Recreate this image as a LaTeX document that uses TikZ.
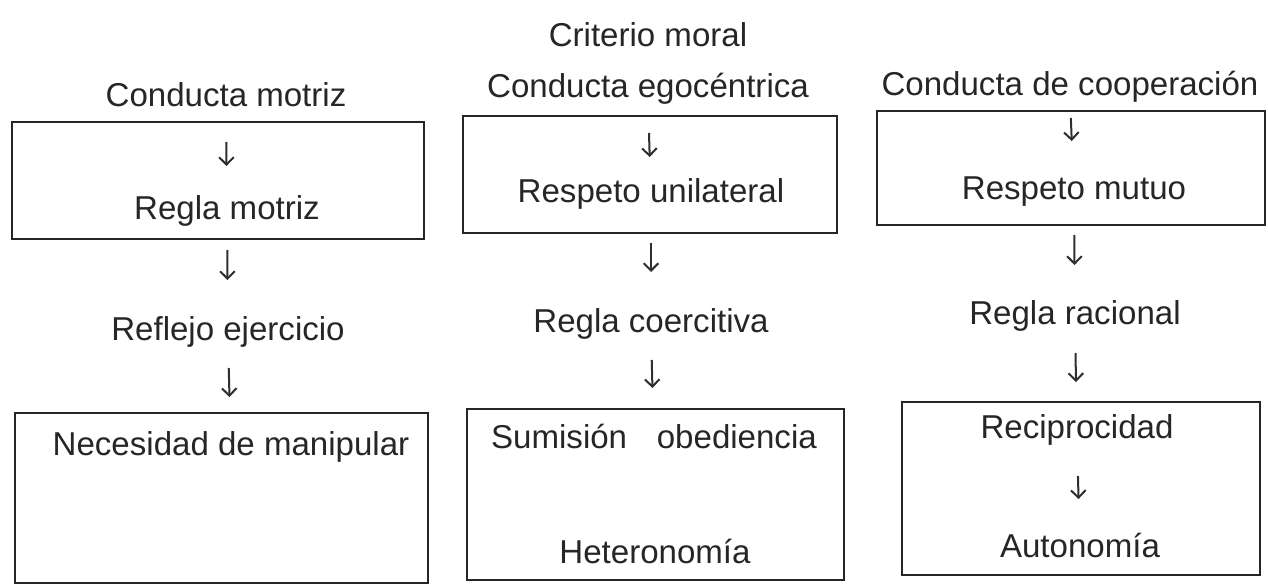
\documentclass[tikz,border=0pt]{standalone}
\usepackage{fontspec}
\setmainfont{Liberation Sans}
\usetikzlibrary{arrows.meta}

\begin{document}
\begin{tikzpicture}[x=0.75pt,y=-0.75pt,
    texto/.style={anchor=base,inner sep=0pt,text=black!85,
      font=\fontsize{24.8}{29}\selectfont},
    caja/.style={draw=black!85,line width=1.3pt,inner sep=0pt},
    flecha/.style={draw=black!82,line width=1.5pt,
      -{Straight Barb[length=5.5pt,width=11pt,line width=1.5pt]}}]
    \useasboundingbox (0,0) rectangle (1268,588);

    % draw boxes
    \node[caja,minimum width=309pt,minimum height=87.75pt] (b1) at (218,180.5) {};
    \node[caja,minimum width=280.5pt,minimum height=87.75pt] (b2) at (650,174.5) {};
    \node[caja,minimum width=291pt,minimum height=85.5pt] (b3) at (1071,168) {};
    \node[caja,minimum width=309.75pt,minimum height=127.5pt] (b4) at (221.5,498) {};
    \node[caja,minimum width=282.75pt,minimum height=128.25pt] (b5) at (655.5,494.5) {};
    \node[caja,minimum width=268.5pt,minimum height=129.75pt] (b6) at (1081,488.5) {};

    % draw title
    \node[texto] (titulo) at (648,47) {Criterio moral};

    % first column
    \node[texto] (cm) at (226,107) {Conducta motriz};
    \node[texto] (rm) at (227,220) {Regla motriz};
    \node[texto] (re) at (228,340) {Reflejo ejercicio};
    \node[texto] (nm) at (231,455) {Necesidad de manipular};

    % second column
    \node[texto] (ce) at (648,98) {Conducta egocéntrica};
    \node[texto] (ru) at (651,203) {Respeto unilateral};
    \node[texto] (rc) at (651,332) {Regla coercitiva};
    \node[texto] (so) at (654,448) {Sumisión\hspace{0.9em}obediencia};
    \node[texto] (he) at (655,563) {Heteronomía};

    % third column
    \node[texto] (cc) at (1070,96) {Conducta de cooperación};
    \node[texto] (rmu) at (1074,200) {Respeto mutuo};
    \node[texto] (rr) at (1075,325) {Regla racional};
    \node[texto] (rec) at (1077,438) {Reciprocidad};
    \node[texto] (au) at (1080,557) {Autonomía};

    % draw arrows
    \foreach \a/\b/\s/\e in {cm/rm/26.25/40.5, rm/re/22.5/45, re/nm/21/43.5,
        ce/ru/26.25/34.5, ru/rc/30/45, rc/so/21/45,
        cc/rmu/16.5/44.25, rmu/rr/26.25/45, rr/rec/21/42, rec/au/28.5/43.5}
      \draw[flecha,shorten <=\s pt,shorten >=\e pt] (\a.base) -- (\b.base);

  \end{tikzpicture}
\end{document}
